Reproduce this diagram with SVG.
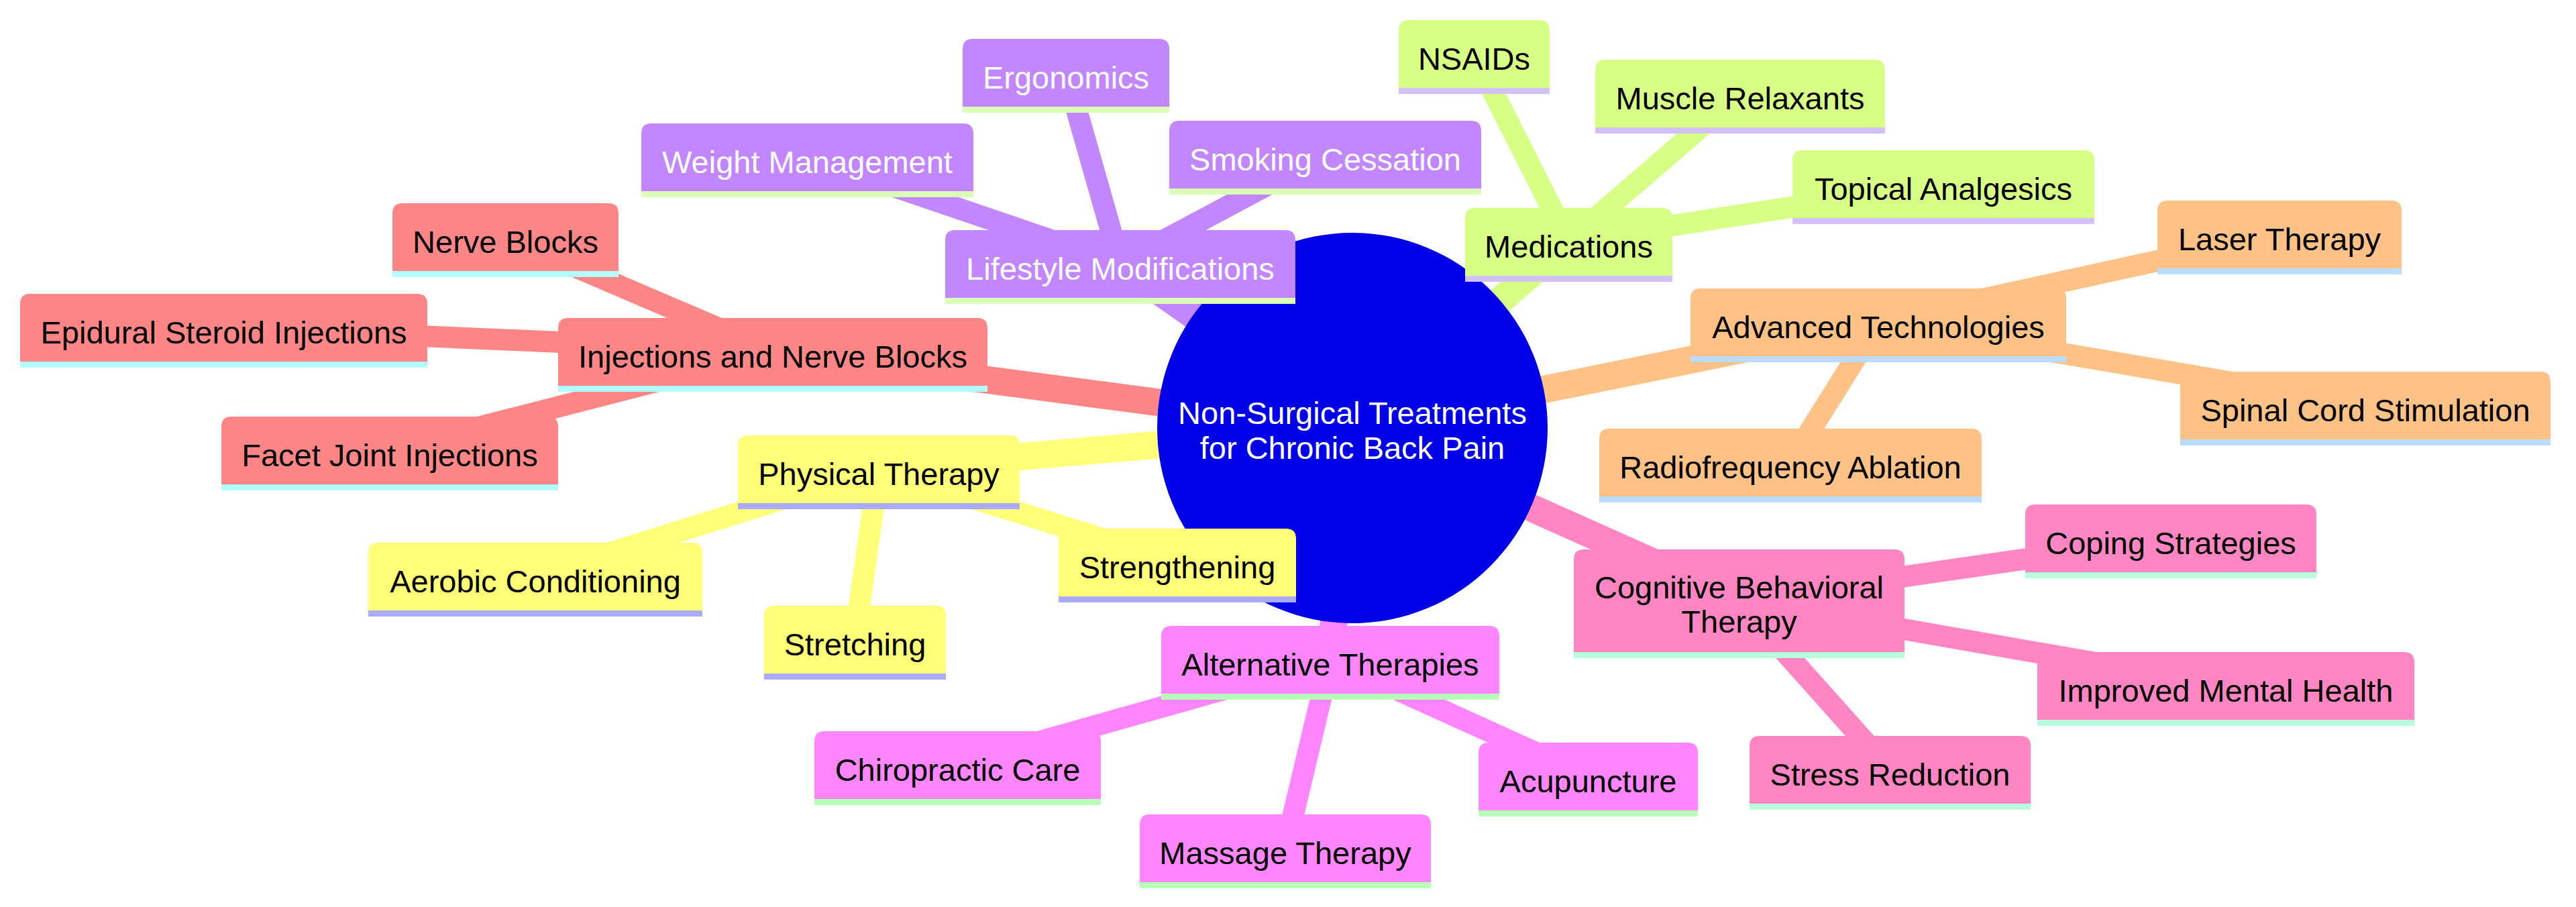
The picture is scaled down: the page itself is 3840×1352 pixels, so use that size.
<svg xmlns="http://www.w3.org/2000/svg" width="3840" height="1352" viewBox="0 0 3840 1352">
<style>
text{font-family:"Liberation Sans",Arial,sans-serif;font-size:47px;text-anchor:middle;fill:#000}
.e0{stroke-width:41;stroke-linecap:butt;fill:none}
.e1{stroke-width:32;stroke-linecap:butt;fill:none}
.red{fill:#ff8686;stroke:#ff8686}
.pur{fill:#c286ff;stroke:#c286ff}
.lim{fill:#d7ff86;stroke:#d7ff86}
.ora{fill:#ffc286;stroke:#ffc286}
.pnk{fill:#ff86c2;stroke:#ff86c2}
.mag{fill:#ff86ff;stroke:#ff86ff}
.yel{fill:#ffff78;stroke:#ffff78}
.node path{stroke:none}
.b-red{fill:#b3ffff}.b-pur{fill:#dcffb8}.b-lim{fill:#d2c0ff}.b-ora{fill:#bbdcff}.b-pnk{fill:#b8ffdc}.b-mag{fill:#b8ffb8}.b-yel{fill:#aaaaff}
.w{fill:#fff}
</style>
<rect width="3840" height="1352" fill="#fff"/>
<g id="connectors">
<line class="e0 red" x1="2016" y1="638" x2="1152" y2="524"/>
<line class="e0 pur" x1="2016" y1="638" x2="1670" y2="393"/>
<line class="e0 lim" x1="2016" y1="638" x2="2338" y2="360"/>
<line class="e0 ora" x1="2016" y1="638" x2="2800" y2="480"/>
<line class="e0 pnk" x1="2016" y1="638" x2="2592" y2="895"/>
<line class="e0 mag" x1="2016" y1="638" x2="1983" y2="983"/>
<line class="e0 yel" x1="2016" y1="638" x2="1310" y2="699"/>
<line class="e1 red" x1="1152" y1="524" x2="753" y2="353"/>
<line class="e1 red" x1="1152" y1="524" x2="333" y2="488"/>
<line class="e1 red" x1="1152" y1="524" x2="581" y2="671"/>
<line class="e1 pur" x1="1670" y1="393" x2="1589" y2="108"/>
<line class="e1 pur" x1="1670" y1="393" x2="1203" y2="234"/>
<line class="e1 pur" x1="1670" y1="393" x2="1975" y2="230"/>
<line class="e1 lim" x1="2338" y1="360" x2="2197" y2="80"/>
<line class="e1 lim" x1="2338" y1="360" x2="2594" y2="139"/>
<line class="e1 lim" x1="2338" y1="360" x2="2897" y2="274"/>
<line class="e1 ora" x1="2800" y1="480" x2="3398" y2="349"/>
<line class="e1 ora" x1="2800" y1="480" x2="3526" y2="604"/>
<line class="e1 ora" x1="2800" y1="480" x2="2669" y2="689"/>
<line class="e1 pnk" x1="2592" y1="895" x2="3236" y2="802"/>
<line class="e1 pnk" x1="2592" y1="895" x2="3318" y2="1022"/>
<line class="e1 pnk" x1="2592" y1="895" x2="2817" y2="1147"/>
<line class="e1 mag" x1="1983" y1="983" x2="2367" y2="1157"/>
<line class="e1 mag" x1="1983" y1="983" x2="1916" y2="1264"/>
<line class="e1 mag" x1="1983" y1="983" x2="1427" y2="1140"/>
<line class="e1 yel" x1="1310" y1="699" x2="798" y2="859"/>
<line class="e1 yel" x1="1310" y1="699" x2="1274" y2="953"/>
<line class="e1 yel" x1="1310" y1="699" x2="1755" y2="838"/>
</g>
<g id="root">
<circle cx="2016" cy="638" r="291" fill="#0000e6"/>
<text class="w" x="2016" y="632">Non-Surgical Treatments</text>
<text class="w" x="2016" y="684">for Chronic Back Pain</text>
</g>
<g id="injections" class="node">
<path class="red" d="M832,575V489Q832,474 847,474H1457Q1472,474 1472,489V575Z"/><rect class="b-red" x="832" y="575" width="640" height="9"/>
<text x="1152" y="548">Injections and Nerve Blocks</text></g>
<g id="nerve-blocks" class="node">
<path class="red" d="M585,404V318Q585,303 600,303H907Q922,303 922,318V404Z"/><rect class="b-red" x="585" y="404" width="337" height="9"/>
<text x="753.5" y="377">Nerve Blocks</text></g>
<g id="epidural" class="node">
<path class="red" d="M30,539V453Q30,438 45,438H622Q637,438 637,453V539Z"/><rect class="b-red" x="30" y="539" width="607" height="9"/>
<text x="333.5" y="512">Epidural Steroid Injections</text></g>
<g id="facet" class="node">
<path class="red" d="M330,722V636Q330,621 345,621H817Q832,621 832,636V722Z"/><rect class="b-red" x="330" y="722" width="502" height="9"/>
<text x="581" y="695">Facet Joint Injections</text></g>
<g id="lifestyle" class="node">
<path class="pur" d="M1409,444V358Q1409,343 1424,343H1916Q1931,343 1931,358V444Z"/><rect class="b-pur" x="1409" y="444" width="522" height="9"/>
<text class="w" x="1670" y="417">Lifestyle Modifications</text></g>
<g id="ergonomics" class="node">
<path class="pur" d="M1435,159V73Q1435,58 1450,58H1728Q1743,58 1743,73V159Z"/><rect class="b-pur" x="1435" y="159" width="308" height="9"/>
<text class="w" x="1589" y="132">Ergonomics</text></g>
<g id="weight" class="node">
<path class="pur" d="M956,285V199Q956,184 971,184H1436Q1451,184 1451,199V285Z"/><rect class="b-pur" x="956" y="285" width="495" height="9"/>
<text class="w" x="1203.5" y="258">Weight Management</text></g>
<g id="smoking" class="node">
<path class="pur" d="M1743,281V195Q1743,180 1758,180H2193Q2208,180 2208,195V281Z"/><rect class="b-pur" x="1743" y="281" width="465" height="9"/>
<text class="w" x="1975.5" y="254">Smoking Cessation</text></g>
<g id="medications" class="node">
<path class="lim" d="M2184,411V325Q2184,310 2199,310H2478Q2493,310 2493,325V411Z"/><rect class="b-lim" x="2184" y="411" width="309" height="9"/>
<text x="2338.5" y="384">Medications</text></g>
<g id="nsaids" class="node">
<path class="lim" d="M2085,131V45Q2085,30 2100,30H2295Q2310,30 2310,45V131Z"/><rect class="b-lim" x="2085" y="131" width="225" height="9"/>
<text x="2197.5" y="104">NSAIDs</text></g>
<g id="muscle" class="node">
<path class="lim" d="M2378,190V104Q2378,89 2393,89H2795Q2810,89 2810,104V190Z"/><rect class="b-lim" x="2378" y="190" width="432" height="9"/>
<text x="2594" y="163">Muscle Relaxants</text></g>
<g id="topical" class="node">
<path class="lim" d="M2672,325V239Q2672,224 2687,224H3107Q3122,224 3122,239V325Z"/><rect class="b-lim" x="2672" y="325" width="450" height="9"/>
<text x="2897" y="298">Topical Analgesics</text></g>
<g id="advanced" class="node">
<path class="ora" d="M2520,531V445Q2520,430 2535,430H3065Q3080,430 3080,445V531Z"/><rect class="b-ora" x="2520" y="531" width="560" height="9"/>
<text x="2800" y="504">Advanced Technologies</text></g>
<g id="laser" class="node">
<path class="ora" d="M3216,400V314Q3216,299 3231,299H3565Q3580,299 3580,314V400Z"/><rect class="b-ora" x="3216" y="400" width="364" height="9"/>
<text x="3398" y="373">Laser Therapy</text></g>
<g id="spinal" class="node">
<path class="ora" d="M3250,655V569Q3250,554 3265,554H3787Q3802,554 3802,569V655Z"/><rect class="b-ora" x="3250" y="655" width="552" height="9"/>
<text x="3526" y="628">Spinal Cord Stimulation</text></g>
<g id="radiofrequency" class="node">
<path class="ora" d="M2384,740V654Q2384,639 2399,639H2939Q2954,639 2954,654V740Z"/><rect class="b-ora" x="2384" y="740" width="570" height="9"/>
<text x="2669" y="713">Radiofrequency Ablation</text></g>
<g id="cbt" class="node">
<path class="pnk" d="M2346,972V834Q2346,819 2361,819H2824Q2839,819 2839,834V972Z"/><rect class="b-pnk" x="2346" y="972" width="493" height="9"/>
<text x="2592.5" y="892">Cognitive Behavioral</text><text x="2592.5" y="943">Therapy</text></g>
<g id="coping" class="node">
<path class="pnk" d="M3019,853V767Q3019,752 3034,752H3438Q3453,752 3453,767V853Z"/><rect class="b-pnk" x="3019" y="853" width="434" height="9"/>
<text x="3236" y="826">Coping Strategies</text></g>
<g id="mental-health" class="node">
<path class="pnk" d="M3037,1073V987Q3037,972 3052,972H3584Q3599,972 3599,987V1073Z"/><rect class="b-pnk" x="3037" y="1073" width="562" height="9"/>
<text x="3318" y="1046">Improved Mental Health</text></g>
<g id="stress" class="node">
<path class="pnk" d="M2608,1198V1112Q2608,1097 2623,1097H3012Q3027,1097 3027,1112V1198Z"/><rect class="b-pnk" x="2608" y="1198" width="419" height="9"/>
<text x="2817.5" y="1171">Stress Reduction</text></g>
<g id="alternative" class="node">
<path class="mag" d="M1731,1034V948Q1731,933 1746,933H2220Q2235,933 2235,948V1034Z"/><rect class="b-mag" x="1731" y="1034" width="504" height="9"/>
<text x="1983" y="1007">Alternative Therapies</text></g>
<g id="acupuncture" class="node">
<path class="mag" d="M2204,1208V1122Q2204,1107 2219,1107H2516Q2531,1107 2531,1122V1208Z"/><rect class="b-mag" x="2204" y="1208" width="327" height="9"/>
<text x="2367.5" y="1181">Acupuncture</text></g>
<g id="massage" class="node">
<path class="mag" d="M1699,1315V1229Q1699,1214 1714,1214H2118Q2133,1214 2133,1229V1315Z"/><rect class="b-mag" x="1699" y="1315" width="434" height="9"/>
<text x="1916" y="1288">Massage Therapy</text></g>
<g id="chiropractic" class="node">
<path class="mag" d="M1214,1191V1105Q1214,1090 1229,1090H1626Q1641,1090 1641,1105V1191Z"/><rect class="b-mag" x="1214" y="1191" width="427" height="9"/>
<text x="1427.5" y="1164">Chiropractic Care</text></g>
<g id="physical" class="node">
<path class="yel" d="M1100,750V664Q1100,649 1115,649H1505Q1520,649 1520,664V750Z"/><rect class="b-yel" x="1100" y="750" width="420" height="9"/>
<text x="1310" y="723">Physical Therapy</text></g>
<g id="aerobic" class="node">
<path class="yel" d="M549,910V824Q549,809 564,809H1032Q1047,809 1047,824V910Z"/><rect class="b-yel" x="549" y="910" width="498" height="9"/>
<text x="798" y="883">Aerobic Conditioning</text></g>
<g id="stretching" class="node">
<path class="yel" d="M1139,1004V918Q1139,903 1154,903H1395Q1410,903 1410,918V1004Z"/><rect class="b-yel" x="1139" y="1004" width="271" height="9"/>
<text x="1274.5" y="977">Stretching</text></g>
<g id="strengthening" class="node">
<path class="yel" d="M1578,889V803Q1578,788 1593,788H1917Q1932,788 1932,803V889Z"/><rect class="b-yel" x="1578" y="889" width="354" height="9"/>
<text x="1755" y="862">Strengthening</text></g>
</svg>
